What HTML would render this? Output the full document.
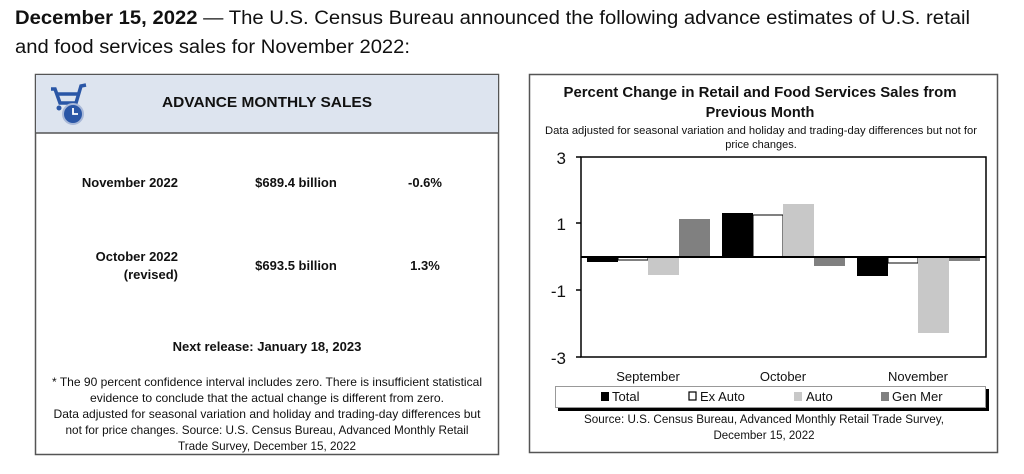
<!DOCTYPE html>
<html><head><meta charset="utf-8"><style>
body{margin:0;background:#fff;}
svg{display:block;font-family:"Liberation Sans",sans-serif;}
</style></head><body>
<svg width="1024" height="474" viewBox="0 0 1024 474" xmlns="http://www.w3.org/2000/svg">
<rect width="1024" height="474" fill="#fff"/>
<text x="15" y="24" font-size="19" fill="#111" textLength="955" lengthAdjust="spacingAndGlyphs"><tspan font-weight="bold">December 15, 2022</tspan> — The U.S. Census Bureau announced the following advance estimates of U.S. retail</text>
<text x="15" y="53" font-size="19" fill="#111" textLength="395" lengthAdjust="spacingAndGlyphs">and food services sales for November 2022:</text>

<!-- Left box -->
<rect x="35.5" y="74.5" width="463" height="380" fill="#fff" stroke="#555" stroke-width="1.5"/>
<rect x="36" y="75" width="462" height="58" fill="#dde4ef"/>
<line x1="35.5" y1="133" x2="498.5" y2="133" stroke="#555" stroke-width="1.5"/>
<!-- cart icon -->
<g fill="none" stroke="#2a56a6" stroke-width="3.5">
<path d="M51 89 L55 89 L60 103 L76 103 L81 86 L86 85"/>
<path d="M56 94 L79 94"/>
</g>
<g fill="#2a56a6"><circle cx="59" cy="108" r="2.5"/></g>
<circle cx="73" cy="114" r="10" fill="#2a56a6" stroke="#a8b8d8" stroke-width="2"/>
<path d="M73 108 L73 114 L78 114" stroke="#fff" stroke-width="1.8" fill="none"/>
<g font-weight="bold" fill="#111">
<text x="267" y="107" font-size="15" text-anchor="middle" textLength="210" lengthAdjust="spacingAndGlyphs">ADVANCE MONTHLY SALES</text>
<text x="178" y="187" font-size="13" text-anchor="end">November 2022</text>
<text x="296" y="187" font-size="13" text-anchor="middle">$689.4 billion</text>
<text x="425" y="187" font-size="13" text-anchor="middle">-0.6%</text>
<text x="178" y="261" font-size="13" text-anchor="end">October 2022</text>
<text x="178" y="279" font-size="13" text-anchor="end">(revised)</text>
<text x="296" y="270" font-size="13" text-anchor="middle">$693.5 billion</text>
<text x="425" y="270" font-size="13" text-anchor="middle">1.3%</text>
<text x="267" y="351" font-size="13" text-anchor="middle">Next release: January 18, 2023</text>
</g>
<g font-size="12" fill="#111" text-anchor="middle" lengthAdjust="spacingAndGlyphs">
<text x="267" y="386" textLength="430" lengthAdjust="spacingAndGlyphs">* The 90 percent confidence interval includes zero. There is insufficient statistical</text>
<text x="267" y="402" textLength="354" lengthAdjust="spacingAndGlyphs">evidence to conclude that the actual change is different from zero.</text>
<text x="267" y="418" textLength="427" lengthAdjust="spacingAndGlyphs">Data adjusted for seasonal variation and holiday and trading-day differences but</text>
<text x="267" y="434" textLength="403" lengthAdjust="spacingAndGlyphs">not for price changes. Source: U.S. Census Bureau, Advanced Monthly Retail</text>
<text x="267" y="450" textLength="178" lengthAdjust="spacingAndGlyphs">Trade Survey, December 15, 2022</text>
</g>

<!-- Right box -->
<rect x="529.5" y="74.5" width="468" height="378" fill="#fff" stroke="#555" stroke-width="1.5"/>
<g font-weight="bold" font-size="14.5" fill="#111" text-anchor="middle">
<text x="760" y="97" textLength="393" lengthAdjust="spacingAndGlyphs">Percent Change in Retail and Food Services Sales from</text>
<text x="760" y="117">Previous Month</text>
</g>
<g font-size="11" fill="#111" text-anchor="middle">
<text x="761" y="134" textLength="432" lengthAdjust="spacingAndGlyphs">Data adjusted for seasonal variation and holiday and trading-day differences but not for</text>
<text x="761" y="148">price changes.</text>
</g>
<!-- bars -->
<rect x="587" y="257" width="31" height="5" fill="#000"/>
<rect x="618" y="257" width="30" height="3" fill="#fff" stroke="#000" stroke-width="1"/>
<rect x="648" y="257" width="31" height="18" fill="#c8c8c8"/>
<rect x="679" y="219" width="31" height="38" fill="#808080"/>
<rect x="722" y="213" width="31" height="44" fill="#000"/>
<rect x="753" y="215" width="30" height="42" fill="#fff" stroke="#000" stroke-width="1"/>
<rect x="783" y="204" width="31" height="53" fill="#c8c8c8"/>
<rect x="814" y="257" width="31" height="9" fill="#808080"/>
<rect x="857" y="257" width="31" height="19" fill="#000"/>
<rect x="888" y="257" width="30" height="6" fill="#fff" stroke="#000" stroke-width="1"/>
<rect x="918" y="257" width="31" height="76" fill="#c8c8c8"/>
<rect x="949" y="257" width="31" height="4" fill="#808080"/>
<!-- axes -->
<rect x="581" y="157" width="405" height="200" fill="none" stroke="#000" stroke-width="1.5"/>
<line x1="581" y1="257" x2="986" y2="257" stroke="#000" stroke-width="2"/>
<g stroke="#000" stroke-width="1.5">
<line x1="576" y1="157" x2="581" y2="157"/><line x1="576" y1="223" x2="581" y2="223"/>
<line x1="576" y1="290" x2="581" y2="290"/><line x1="576" y1="357" x2="581" y2="357"/>
</g>
<g font-size="17" fill="#111" text-anchor="end">
<text x="566" y="164">3</text><text x="566" y="230">1</text>
<text x="566" y="297">-1</text><text x="566" y="364">-3</text>
</g>
<g font-size="13" fill="#111" text-anchor="middle">
<text x="648" y="381">September</text><text x="783" y="381">October</text><text x="918" y="381">November</text>
</g>
<!-- legend -->
<rect x="558" y="389" width="431" height="22" fill="#000"/>
<rect x="555.5" y="386.5" width="430" height="21" fill="#fff" stroke="#999" stroke-width="1"/>
<g font-size="13" fill="#111">
<rect x="601" y="392" width="8" height="9" fill="#000"/><text x="612" y="401">Total</text>
<rect x="689" y="392" width="7" height="8" fill="#fff" stroke="#000" stroke-width="1.2"/><text x="700" y="401">Ex Auto</text>
<rect x="794" y="392" width="8" height="9" fill="#c8c8c8"/><text x="806" y="401">Auto</text>
<rect x="881" y="392" width="8" height="9" fill="#808080"/><text x="892" y="401">Gen Mer</text>
</g>
<g font-size="11.5" fill="#111" text-anchor="middle">
<text x="764" y="423" textLength="360" lengthAdjust="spacingAndGlyphs">Source: U.S. Census Bureau, Advanced Monthly Retail Trade Survey,</text>
<text x="764" y="439">December 15, 2022</text>
</g>
</svg>
</body></html>
